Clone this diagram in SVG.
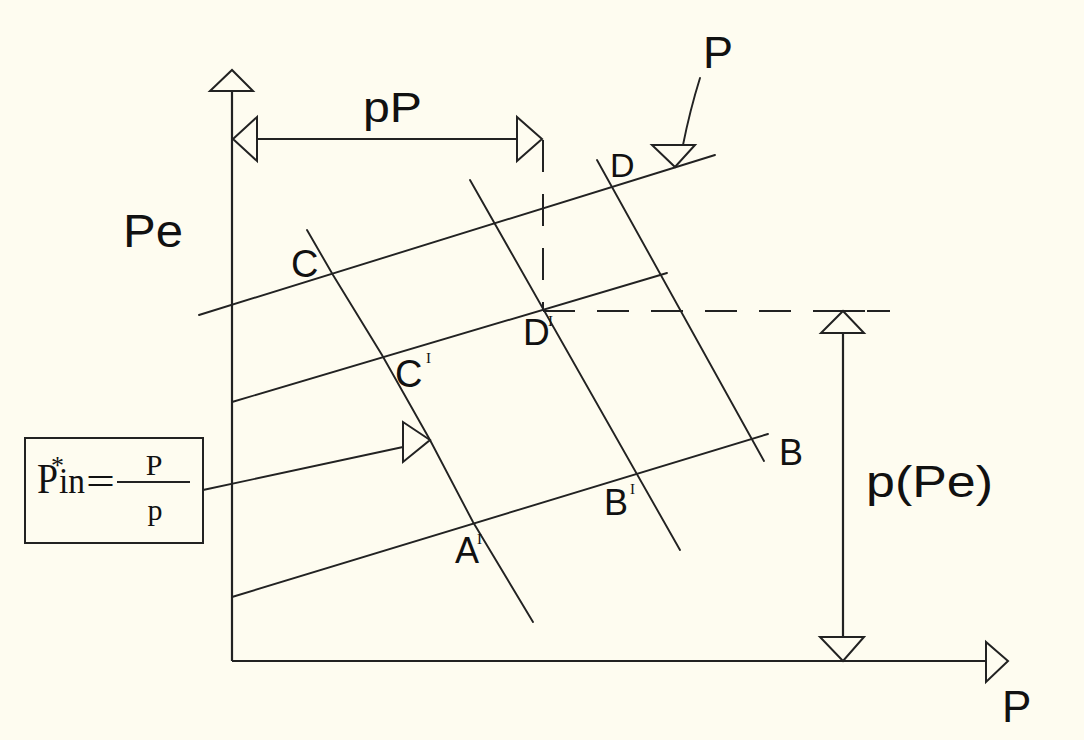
<svg xmlns="http://www.w3.org/2000/svg" width="1084" height="740" viewBox="0 0 1084 740">
<style>
.ln{stroke:#222;stroke-width:1.9;fill:none;stroke-linecap:round}
.ax{stroke:#222;stroke-width:2.2;fill:none}
.ah{stroke:#222;stroke-width:2;fill:#fefcf0;stroke-linejoin:miter}
.dash{stroke:#222;stroke-width:2;fill:none;stroke-dasharray:32 22}
.t{font-family:"Liberation Sans",Arial,sans-serif;fill:#111}
.s{font-family:"Liberation Serif","Times New Roman",serif;fill:#111}
</style>
<rect width="1084" height="740" fill="#fefcf0"/>
<g id="connectors">
  <line class="ax" x1="232" y1="91" x2="232" y2="661"/>
  <line class="ax" x1="232" y1="661" x2="986" y2="661"/>
  <polygon class="ah" points="210,91 253,91 232,70"/>
  <polygon class="ah" points="986,642 986,682 1008,661"/>
  <line class="ax" x1="257" y1="139" x2="517" y2="139"/>
  <polygon class="ah" points="257,117 257,161 233,139"/>
  <polygon class="ah" points="517,117 517,161 542,139"/>
  <line class="dash" x1="543" y1="140" x2="543" y2="310"/>
  <line class="dash" x1="543" y1="311" x2="890" y2="311"/>
  <line class="ax" x1="815" y1="311" x2="865" y2="311"/>
  <polygon class="ah" points="821,333 864,333 843,311"/>
  <line class="ax" x1="843" y1="333" x2="843" y2="637"/>
  <polygon class="ah" points="820,637 864,637 843,661"/>
  <line class="ln" x1="199" y1="315" x2="715" y2="155"/>
  <line class="ln" x1="232" y1="402" x2="667" y2="273"/>
  <line class="ln" x1="232" y1="597" x2="768" y2="434"/>
  <polyline class="ln" points="307,230 333,275 382,355 430,440 473,522 533,622"/>
  <line class="ln" x1="470" y1="180" x2="680" y2="550"/>
  <line class="ln" x1="597" y1="160" x2="764" y2="461"/>
  <path class="ln" d="M700,78 Q690,110 683,145"/>
  <polygon class="ah" points="652,145 695,145 675,167"/>
  <line class="ln" x1="203" y1="490" x2="403" y2="447"/>
  <polygon class="ah" points="403,422 403,462 430,440"/>
</g>
<g id="labels">
  <text class="t" x="123" y="247" font-size="46" textLength="60" lengthAdjust="spacingAndGlyphs">Pe</text>
  <text class="t" x="363" y="122" font-size="42" textLength="59" lengthAdjust="spacingAndGlyphs">pP</text>
  <text class="t" x="703" y="68" font-size="45">P</text>
  <text class="t" x="1002" y="722" font-size="44">P</text>
  <text class="t" x="866" y="497" font-size="44" textLength="127" lengthAdjust="spacingAndGlyphs">p(Pe)</text>
</g>
<g id="node-D"><text class="t" x="610" y="177" font-size="34">D</text></g>
<g id="node-C"><text class="t" x="291" y="277" font-size="38">C</text></g>
<g id="node-C1"><text class="t" x="395" y="387" font-size="38">C</text><text class="s" x="426" y="363" font-size="15">I</text></g>
<g id="node-D1"><text class="t" x="523" y="345" font-size="37">D</text><text class="s" x="548" y="326" font-size="15">I</text></g>
<g id="node-A1"><text class="t" x="455" y="563" font-size="36">A</text><text class="s" x="477" y="544" font-size="15">I</text></g>
<g id="node-B1"><text class="t" x="604" y="515" font-size="36">B</text><text class="s" x="630" y="494" font-size="15">I</text></g>
<g id="node-B"><text class="t" x="779" y="465" font-size="36">B</text></g>
<g id="node-Pin">
  <rect x="25" y="438" width="178" height="105" fill="#fefcf0" stroke="#222" stroke-width="2"/>
  <text class="s" x="37" y="493" font-size="42" textLength="21" lengthAdjust="spacingAndGlyphs">P</text>
  <text class="s" x="51" y="474" font-size="26">*</text>
  <text class="s" x="59" y="493" font-size="35" textLength="26" lengthAdjust="spacingAndGlyphs">in</text>
  <text class="s" x="86" y="494" font-size="38" textLength="29" lengthAdjust="spacingAndGlyphs">=</text>
  <line x1="117" y1="482" x2="190" y2="482" stroke="#222" stroke-width="2"/>
  <text class="s" x="154" y="475" font-size="30" text-anchor="middle">P</text>
  <text class="s" x="155" y="520" font-size="30" text-anchor="middle">p</text>
</g>
</svg>
